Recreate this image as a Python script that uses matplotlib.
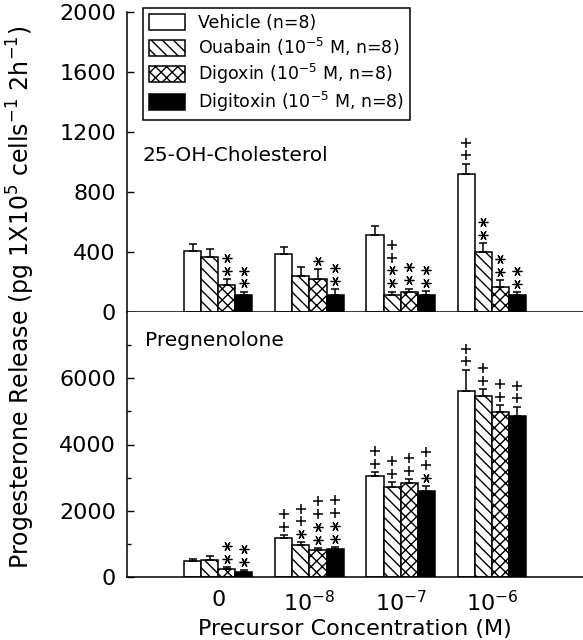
import matplotlib
matplotlib.use("Agg")
import matplotlib.pyplot as plt
import matplotlib.transforms as mtransforms
from matplotlib.patches import Patch
import numpy as np

plt.rcParams['font.family'] = ['DejaVu Sans']
plt.rcParams['mathtext.fontset'] = 'dejavusans'
plt.rcParams['hatch.linewidth'] = 1.0

# ---------------- data ----------------
groups = ['0', '10$^{-8}$', '10$^{-7}$', '10$^{-6}$']
series = ['Vehicle (n=8)', 'Ouabain (10$^{-5}$ M, n=8)',
          'Digoxin (10$^{-5}$ M, n=8)', 'Digitoxin (10$^{-5}$ M, n=8)']

# 25-OH-Cholesterol panel
chol_vehicle = [410, 384, 511, 922]
chol_ouabain = [368, 242, 116, 400]
chol_digoxin = [180, 222, 136, 167]
chol_digitoxin = [111, 116, 111, 111]
chol_err_vehicle = [45, 47, 62, 66]
chol_err_ouabain = [54, 58, 20, 58]
chol_err_digoxin = [38, 62, 20, 46]
chol_err_digitoxin = [24, 35, 29, 22]

# Pregnenolone panel
preg_vehicle = [470, 1183, 3038, 5625]
preg_ouabain = [511, 963, 2717, 5465]
preg_digoxin = [250, 822, 2848, 4973]
preg_digitoxin = [150, 852, 2597, 4873]
preg_err_vehicle = [60, 70, 130, 630]
preg_err_ouabain = [110, 80, 150, 200]
preg_err_digoxin = [40, 50, 100, 210]
preg_err_digitoxin = [50, 50, 140, 270]

# significance marks per group, per series, read top to bottom
chol_marks = [['', '', '**', '**'],
              ['', '', '*', '**'],
              ['', '++**', '**', '**'],
              ['++', '**', '**', '**']]
preg_marks = [['', '', '**', '**'],
              ['++', '++*', '++**', '++**'],
              ['++', '++', '++', '++*'],
              ['++', '++', '++', '++']]

chol_label = '25-OH-Cholesterol'
preg_label = 'Pregnenolone'
ylabel = 'Progesterone Release (pg 1X10$^{5}$ cells$^{-1}$ 2h$^{-1}$)'
xlabel = 'Precursor Concentration (M)'

# ---------------- style ----------------
hatches = ['', '\\\\\\', 'xxx', '']
faces = ['white', 'white', 'white', 'black']
bar_w = 0.1875
fig = plt.figure(figsize=(5.83, 6.40), dpi=100)

W, H = 583, 640
ax_top = fig.add_axes([127 / W, 1 - 312 / H, 456 / W, 300 / H])
ax_bot = fig.add_axes([127 / W, 1 - 577 / H, 456 / W, 265 / H])

x = np.arange(1, len(groups) + 1)


def draw_panel(ax, vals, errs, marks):
    for i, (v, e) in enumerate(zip(vals, errs)):
        xpos = x - 1.5 * bar_w + i * bar_w
        ax.bar(xpos, v, width=bar_w, color=faces[i], edgecolor='black',
               linewidth=1.1, hatch=hatches[i], zorder=2)
        ax.errorbar(xpos, v, yerr=[np.zeros(len(e)), e], fmt='none',
                    ecolor='black', elinewidth=1.1, capsize=3.2,
                    capthick=1.1, zorder=3)
        for g in range(len(groups)):
            m = marks[g][i]
            top = v[g] + e[g]
            for k, ch in enumerate(reversed(m)):
                tr = mtransforms.offset_copy(ax.transData, fig=fig, x=0,
                                             y=6.0 + k * 9.2, units='points')
                if ch == '+':
                    ax.plot([xpos[g]], [top], marker='+', ms=6.5, mew=1.1,
                            color='black', transform=tr, clip_on=False,
                            zorder=4)
                else:
                    ax.plot([xpos[g]], [top], marker=(6, 2, 90), ms=7.0,
                            mew=0.9, color='black', transform=tr,
                            clip_on=False, zorder=4)
    ax.set_xlim(0, 5)
    for s in ['top', 'right']:
        ax.spines[s].set_visible(False)
    for s in ['left', 'bottom']:
        ax.spines[s].set_linewidth(1.1)
    ax.tick_params(axis='y', direction='in', length=5, width=1.0,
                   labelsize=16, pad=8)
    ax.tick_params(axis='y', which='minor', direction='in', length=3,
                   width=1.0)
    ax.tick_params(axis='x', length=0)


draw_panel(ax_top,
           [chol_vehicle, chol_ouabain, chol_digoxin, chol_digitoxin],
           [chol_err_vehicle, chol_err_ouabain, chol_err_digoxin,
            chol_err_digitoxin], chol_marks)
draw_panel(ax_bot,
           [preg_vehicle, preg_ouabain, preg_digoxin, preg_digitoxin],
           [preg_err_vehicle, preg_err_ouabain, preg_err_digoxin,
            preg_err_digitoxin], preg_marks)

ax_top.set_ylim(0, 2000)
ax_top.set_yticks([0, 400, 800, 1200, 1600, 2000])
ax_top.set_xticks([])

ax_bot.set_ylim(0, 8000)
ax_bot.set_yticks([0, 2000, 4000, 6000])
ax_bot.set_yticks([1000, 3000, 5000, 7000], minor=True)
ax_bot.set_xticks(x)
ax_bot.set_xticklabels(groups, fontsize=16)
ax_bot.tick_params(axis='x', pad=9)
ax_bot.set_xlabel(xlabel, fontsize=16, labelpad=3)

ax_top.text(0.035, 0.523, chol_label, transform=ax_top.transAxes,
            fontsize=14.5, ha='left', va='center')
ax_bot.text(0.04, 0.894, preg_label, transform=ax_bot.transAxes,
            fontsize=14.5, ha='left', va='center')

fig.text(21 / W, 1 - 297 / H, ylabel, rotation=90, fontsize=17,
         ha='center', va='center')

handles = [Patch(facecolor=faces[i], edgecolor='black', hatch=hatches[i],
                 linewidth=1.1) for i in range(4)]
leg = ax_top.legend(handles, series, loc='upper left',
                    bbox_to_anchor=(0.035, 1.013), borderaxespad=0,
                    fontsize=12.5, handlelength=2.1, handleheight=1.0,
                    labelspacing=0.22, handletextpad=0.7, borderpad=0.35,
                    fancybox=False, framealpha=1, edgecolor='black')
leg.get_frame().set_linewidth(1.1)

fig.savefig('out.png', dpi=100)
